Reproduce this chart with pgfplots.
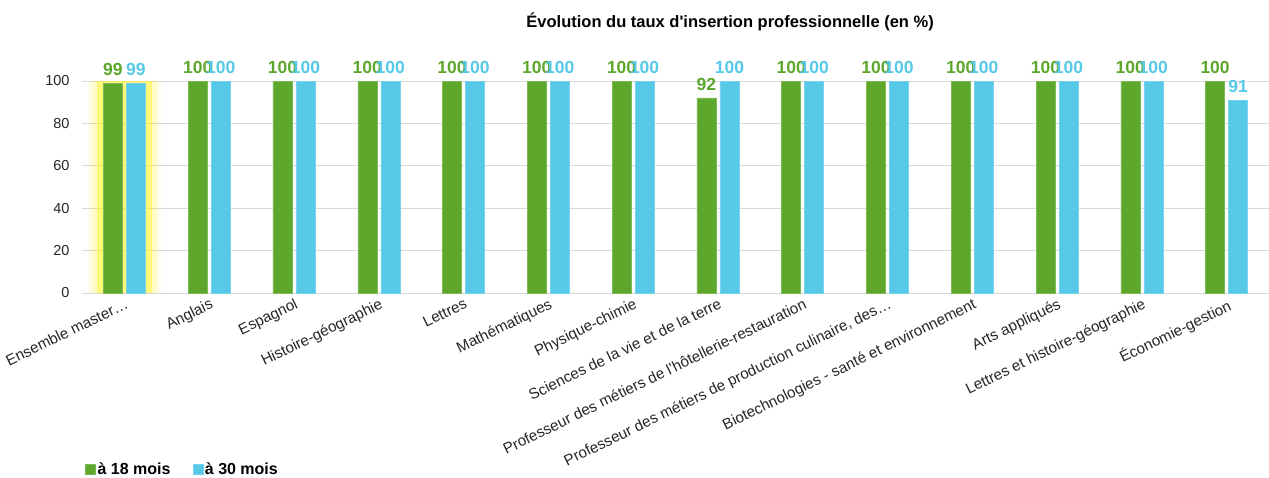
\documentclass[border=0pt]{standalone}
\usepackage{pgfplots}
\pgfplotsset{compat=1.18}
\usepackage{fontspec}
\setmainfont{Liberation Sans}
\definecolor{vert}{HTML}{5EA72D}
\definecolor{bleu}{HTML}{56C8E8}
\definecolor{grille}{HTML}{D9D9D9}
\definecolor{jaune}{HTML}{FFF200}
\begin{document}
\begin{tikzpicture}
\begin{axis}[
  at={(0pt,0pt)}, anchor=south west,
  scale only axis, width=1187pt, height=212pt,
  ymin=0, ymax=100, xmin=-0.5, xmax=13.5,
  ybar=4pt, bar width=19pt,
  axis y line*=left, axis x line*=bottom,
  y axis line style={draw=none},
  x axis line style={grille, line width=1pt},
  ytick={0,20,...,100}, ymajorgrids, grid style={grille, line width=0.8pt},
  major tick length=0pt,
  xtick=data,
  xticklabels={Ensemble master…, Anglais, Espagnol, Histoire-géographie, Lettres, Mathématiques, Physique-chimie, Sciences de la vie et de la terre, Professeur des métiers de l\textquotesingle hôtellerie-restauration, {Professeur des métiers de production culinaire, des…}, Biotechnologies - santé et environnement, Arts appliqués, Lettres et histoire-géographie, Économie-gestion},
  xticklabel style={rotate=26, anchor=north east, font=\fontsize{15.2}{17}\selectfont, text=black!85, inner sep=2pt, yshift=-2pt},
  /pgf/number format/assume math mode=true,
  yticklabel style={font=\fontsize{14.5}{16}\selectfont, text=black!85},
  every y tick label/.append style={xshift=-9pt},
  clip=false,
  nodes near coords,
  nodes near coords style={font=\bfseries\fontsize{17.5}{19}\selectfont, inner sep=1pt, yshift=6pt},
  legend style={draw=none, at={(0.0,-0.83)}, anchor=west, legend columns=2,
    font=\bfseries\fontsize{16}{18}\selectfont,
    /tikz/every even column/.append style={column sep=20pt}},
  legend image code/.code={\fill[#1] (0pt,-5pt) rectangle (10pt,5pt);},
]
% surlignage jaune du premier groupe
\fill[jaune, opacity=0.08] (axis cs:-0.43,0) rectangle (axis cs:0.43,100);
\fill[jaune, opacity=0.15] (axis cs:-0.38,0) rectangle (axis cs:0.38,100);
\fill[jaune, opacity=0.40] (axis cs:-0.32,0) rectangle (axis cs:0.32,100);
\addplot[fill=vert, draw=vert!80!white, every node near coord/.append style={text=vert}] coordinates {
  (0,99) (1,100) (2,100) (3,100) (4,100) (5,100) (6,100)
  (7,92) (8,100) (9,100) (10,100) (11,100) (12,100) (13,100)};
\addplot[fill=bleu, draw=bleu!80!white, every node near coord/.append style={text=bleu}] coordinates {
  (0,99) (1,100) (2,100) (3,100) (4,100) (5,100) (6,100)
  (7,100) (8,100) (9,100) (10,100) (11,100) (12,100) (13,91)};
\legend{à 18 mois, à 30 mois}
\node[font=\bfseries\fontsize{16.5}{18}\selectfont] at (axis description cs:0.546,1.278) {Évolution du taux d\textquotesingle insertion professionnelle (en \%)};
\end{axis}
\pgfresetboundingbox
\path (-82pt,-184pt) rectangle (1187pt,293pt);
\end{tikzpicture}
\end{document}
